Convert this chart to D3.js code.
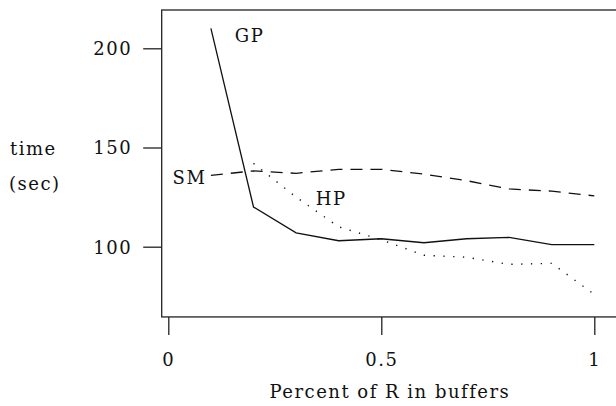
<!DOCTYPE html>
<html>
<head>
<meta charset="utf-8">
<script src="https://cdn.jsdelivr.net/npm/d3@7"></script>
<style>
  body { margin: 0; background: #fff; }
  svg text { font-family: "DejaVu Serif", serif; font-size: 18px; letter-spacing: 1.5px; fill: #111; }
</style>
</head>
<body>
<div id="chart"></div>
<script>
// fraction of R held in buffers
let pct = [0.1, 0.2, 0.3, 0.4, 0.5, 0.6, 0.7, 0.8, 0.9, 1.0];
let gpTime = [210, 120, 107, 103, 104, 102, 104, 104.7, 101, 101];
let smTime = [136, 138.2, 137, 139, 139, 136.6, 133.3, 129.1, 128, 125.6];
let hpPct = [0.2, 0.3, 0.4, 0.5, 0.6, 0.7, 0.8, 0.9, 1.0];
let hpTime = [142, 125, 110, 103.5, 95.7, 94.7, 91.1, 91.6, 76];
let xTicks = [0, 0.5, 1];
let yTicks = [100, 150, 200];

let width = 616, height = 406;

let svg = d3.select("#chart")
  .append("svg")
    .attr("width", width)
    .attr("height", height);

let xScale = d3.scaleLinear().domain([0, 1]).range([168.3, 594.3]);
let yScale = d3.scaleLinear().domain([100, 200]).range([246.7, 48.3]);

let frameLeft = xScale(-0.0155), frameRight = xScale(1.056);
let frameTop = yScale(219.3), frameBottom = yScale(64.6);

// plot box (right side runs just off the page)
svg.append("rect")
  .attr("x", frameLeft)
  .attr("y", frameTop)
  .attr("width", frameRight - frameLeft)
  .attr("height", frameBottom - frameTop)
  .attr("fill", "none")
  .attr("stroke", "#222")
  .attr("stroke-width", 1.3);

let yAxis = d3.axisLeft(yScale).tickValues(yTicks).tickSize(18.5).tickPadding(11);
let yAxisGroup = svg.append("g").attr("transform", "translate(" + frameLeft + ",0)");
yAxisGroup.call(yAxis);
yAxisGroup.attr("font-family", null).attr("font-size", null);
yAxisGroup.select(".domain").remove();
yAxisGroup.selectAll("line").attr("stroke", "#222").attr("stroke-width", 1.3);
yAxisGroup.selectAll("text")
  .attr("fill", null)
  .attr("dy", "0.36em");

let xAxis = d3.axisBottom(xScale).tickValues(xTicks).tickSize(18).tickFormat(d3.format("")).tickPadding(0);
let xAxisGroup = svg.append("g").attr("transform", "translate(0," + frameBottom + ")");
xAxisGroup.call(xAxis);
xAxisGroup.attr("font-family", null).attr("font-size", null);
xAxisGroup.select(".domain").remove();
xAxisGroup.selectAll("line").attr("stroke", "#222").attr("stroke-width", 1.3);
xAxisGroup.selectAll("text")
  .attr("y", 49).attr("dy", 0)
  .attr("fill", null);

let line = d3.line()
  .x(function(d){ return xScale(d[0]); })
  .y(function(d){ return yScale(d[1]); });

svg.append("path")
  .datum(d3.zip(pct, gpTime))
  .attr("d", line)
  .attr("fill", "none")
  .attr("stroke", "#111")
  .attr("stroke-width", 1.3);

svg.append("path")
  .datum(d3.zip(pct, smTime))
  .attr("d", line)
  .attr("fill", "none")
  .attr("stroke", "#111")
  .attr("stroke-width", 1.3)
  .attr("stroke-dasharray", "12,8");

svg.append("path")
  .datum(d3.zip(hpPct, hpTime))
  .attr("d", line)
  .attr("fill", "none")
  .attr("stroke", "#111")
  .attr("stroke-width", 1.4)
  .attr("stroke-dasharray", "1.3,8.5");

// series names, placed in data units
let seriesNames = ["GP", "SM", "HP"];
let namePos = [[0.156, 203], [0.01, 131.5], [0.346, 120.8]];
svg.selectAll(".name").data(seriesNames).enter()
  .append("text")
    .attr("class", "name")
    .attr("x", function(d, i){ return xScale(namePos[i][0]); })
    .attr("y", function(d, i){ return yScale(namePos[i][1]); })
    .text(function(d){ return d; });

svg.append("text").attr("x", 10).attr("y", 155).text("time");
svg.append("text").attr("x", 9).attr("y", 190).text("(sec)");

// x title is centred on the plot box
svg.append("text")
  .attr("x", (frameLeft + frameRight) / 2)
  .attr("y", 398)
  .attr("text-anchor", "middle")
  .text("Percent of R in buffers");
</script>
</body>
</html>
